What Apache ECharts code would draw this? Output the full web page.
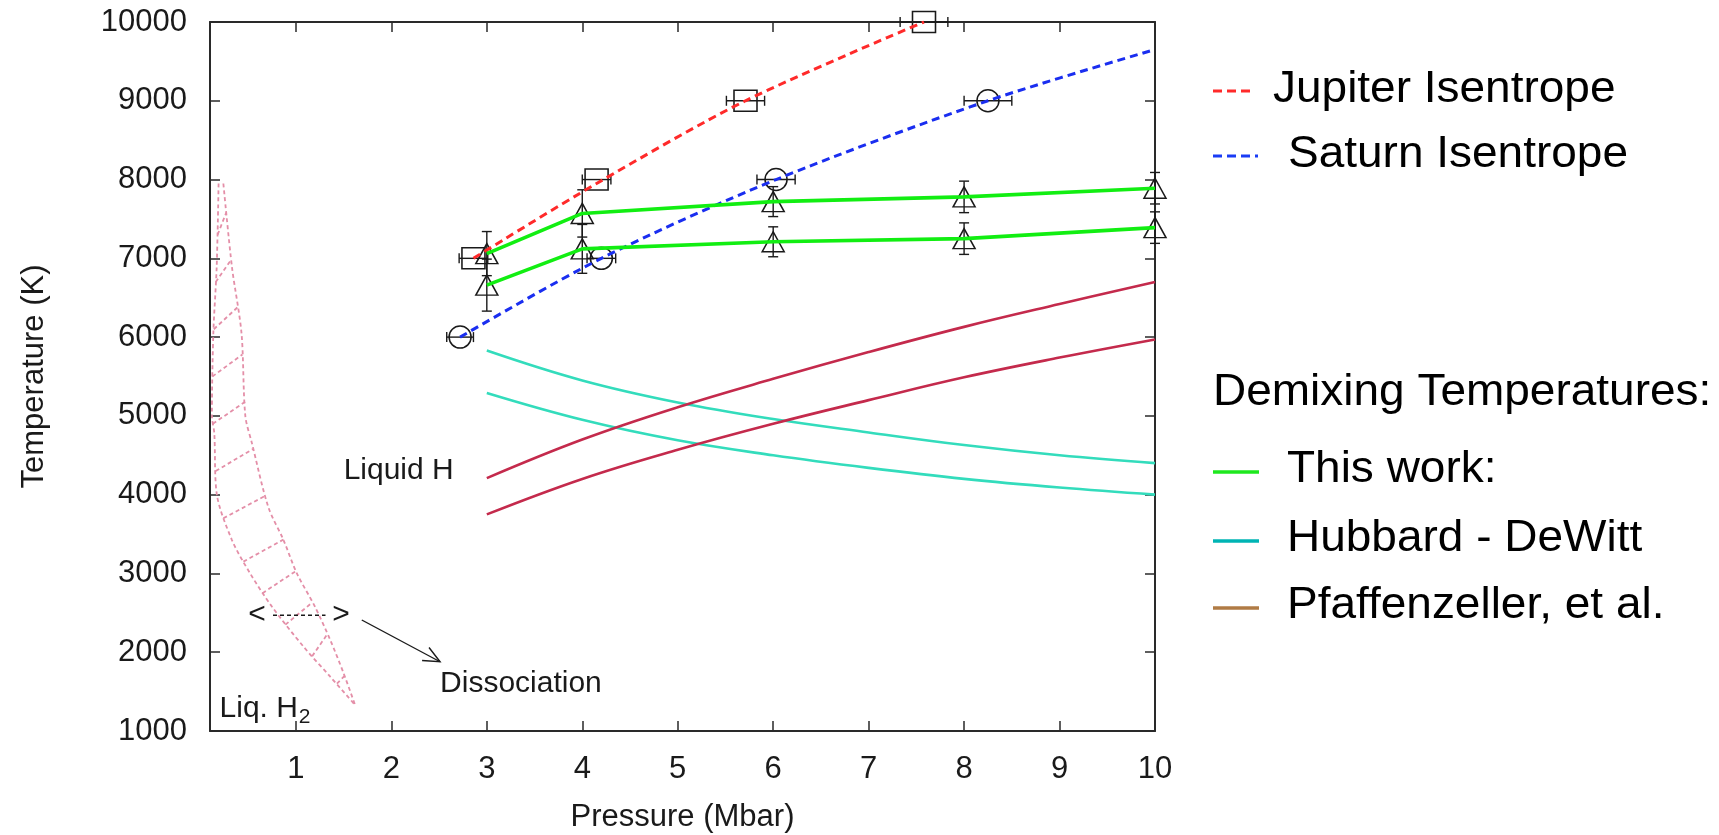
<!DOCTYPE html>
<html>
<head>
<meta charset="utf-8">
<title>H-He demixing</title>
<script src="https://cdn.jsdelivr.net/npm/echarts@6/dist/echarts.min.js"></script>
<style>
  html, body { margin: 0; padding: 0; background: #fff; }
  #chart { width: 1719px; height: 835px; }
</style>
</head>
<body>
<div id="chart"></div>
<script>
// ticks
var xTicks = [1, 2, 3, 4, 5, 6, 7, 8, 9, 10];
var yTicks = [1000, 2000, 3000, 4000, 5000, 6000, 7000, 8000, 9000, 10000];

// Jupiter isentrope (squares + dashed curve)
var jupP = [2.86, 4.15, 5.71, 7.58];
var jupT = [7000, 8000, 9000, 10000];
var jupErr = [0.15, 0.15, 0.2, 0.25];
var jupLineP = [2.86, 4.15, 5.71, 7.58];
var jupLineT = [7000, 7950, 9000, 10000];

// Saturn isentrope (circles + dashed curve)
var satP = [2.72, 4.2, 6.03, 8.25];
var satT = [6000, 7000, 8000, 9000];
var satErr = [0.14, 0.15, 0.2, 0.25];
var satLineP = [2.72, 4.2, 6.03, 8.25, 10];
var satLineT = [6000, 7000, 8000, 9000, 9650];

// this work (green, triangles)
var workP = [3, 4, 6, 8, 10];
var workHi = [7060, 7570, 7720, 7780, 7890];
var workHiErr = [280, 300, 190, 200, 200];
var workLo = [6660, 7120, 7210, 7250, 7390];
var workLoErr = [330, 310, 190, 200, 200];

// Hubbard - DeWitt (cyan)
var hdP = [3, 4, 5, 6, 7, 8, 9, 10];
var hdHi = [5830, 5450, 5170, 4960, 4790, 4630, 4500, 4400];
var hdLo = [5290, 4950, 4690, 4500, 4340, 4200, 4090, 4000];

// Pfaffenzeller et al. (crimson)
var pfP = [3, 4, 5, 6, 7, 8, 9, 10];
var pfHi = [4210, 4700, 5110, 5470, 5810, 6130, 6420, 6700];
var pfLo = [3750, 4200, 4570, 4900, 5200, 5490, 5740, 5970];

// H2 dissociation band
var bandLeftP = [0.19, 0.17, 0.135, 0.12, 0.145, 0.17, 0.33, 0.52, 0.75, 1.08, 1.36, 1.62];
var bandLeftT = [7950, 6890, 6050, 5000, 4780, 4016, 3424, 3001, 2577, 2070, 1689, 1330];
var bandRightP = [0.24, 0.33, 0.43, 0.47, 0.54, 0.71, 0.87, 1.01, 1.20, 1.36, 1.50, 1.62];
var bandRightT = [7950, 6890, 6050, 5000, 4651, 3846, 3424, 3001, 2577, 2155, 1732, 1330];
var hatchP1 = [0.18, 0.16, 0.14, 0.125, 0.13, 0.16, 0.24, 0.45, 0.65, 0.89, 1.17, 1.43];
var hatchT1 = [7300, 6700, 6100, 5500, 4900, 4300, 3700, 3150, 2750, 2350, 1950, 1600];
var hatchP2 = [0.27, 0.32, 0.39, 0.44, 0.47, 0.55, 0.67, 0.87, 1.00, 1.17, 1.33, 1.51];
var hatchT2 = [7580, 6980, 6380, 5780, 5180, 4580, 3980, 3430, 3030, 2630, 2230, 1700];

// annotations
var noteText = ['Liquid H', 'Dissociation', 'Liq. H', '<', '>'];
var noteP = [1.50, 2.51, 0.20, 0.50, 1.38];
var noteT = [4300, 1603, 1279, 2470, 2470];
var subText = ['2'];
var subP = [1.03];
var subT = [1181];
var dashArrowP = [0.76, 1.31];
var dashArrowT = [2470, 2470];
var arrowFrom = [1.69, 2409];
var arrowTo = [2.51, 1879];

function pts(xs, ys) {
    return xs.map(function (x, i) { return [x, ys[i]]; });
}

var FONT = 'Liberation Sans';
var INK = '#1a1a1a';

function errX(params, api) {
    var c = api.coord([api.value(0), api.value(2)]);
    var a = api.coord([api.value(0) - api.value(1), api.value(2)]);
    var b = api.coord([api.value(0) + api.value(1), api.value(2)]);
    var st = { stroke: INK, lineWidth: 1.4 };
    return { type: 'group', children: [
        { type: 'line', shape: { x1: a[0], y1: c[1], x2: b[0], y2: c[1] }, style: st },
        { type: 'line', shape: { x1: a[0], y1: c[1] - 5, x2: a[0], y2: c[1] + 5 }, style: st },
        { type: 'line', shape: { x1: b[0], y1: c[1] - 5, x2: b[0], y2: c[1] + 5 }, style: st }
    ]};
}

function errY(params, api) {
    var a = api.coord([api.value(0), api.value(1) - api.value(2)]);
    var b = api.coord([api.value(0), api.value(1) + api.value(2)]);
    var st = { stroke: INK, lineWidth: 1.4 };
    return { type: 'group', children: [
        { type: 'line', shape: { x1: a[0], y1: a[1], x2: b[0], y2: b[1] }, style: st },
        { type: 'line', shape: { x1: a[0] - 5, y1: a[1], x2: a[0] + 5, y2: a[1] }, style: st },
        { type: 'line', shape: { x1: b[0] - 5, y1: b[1], x2: b[0] + 5, y2: b[1] }, style: st }
    ]};
}

function arrow(params, api) {
    var a = api.coord([api.value(0), api.value(1)]);
    var b = api.coord([api.value(2), api.value(3)]);
    var ang = Math.atan2(b[1] - a[1], b[0] - a[0]);
    var L = 18, w = 0.42;
    var h1 = [b[0] - L * Math.cos(ang - w), b[1] - L * Math.sin(ang - w)];
    var h2 = [b[0] - L * Math.cos(ang + w), b[1] - L * Math.sin(ang + w)];
    var st = { stroke: INK, lineWidth: 1.4, fill: null };
    return { type: 'group', children: [
        { type: 'line', shape: { x1: a[0], y1: a[1], x2: b[0], y2: b[1] }, style: st },
        { type: 'polyline', shape: { points: [h1, b, h2] }, style: st }
    ]};
}

var chart = echarts.init(document.getElementById('chart'));

var hollow = { color: 'rgba(0,0,0,0)', borderColor: INK, borderWidth: 1.5, opacity: 1 };
var bandStyle = { color: '#e48fa8', width: 1.8, type: [4, 3] };

var series = [
    // dissociation band
    { type: 'line', data: pts(bandLeftP, bandLeftT), smooth: 0.3, showSymbol: false, lineStyle: bandStyle, silent: true },
    { type: 'line', data: pts(bandRightP, bandRightT), smooth: 0.3, showSymbol: false, lineStyle: bandStyle, silent: true },
    {
        type: 'lines', coordinateSystem: 'cartesian2d', silent: true,
        lineStyle: Object.assign({ opacity: 1 }, bandStyle),
        data: hatchP1.map(function (p, i) { return { coords: [[p, hatchT1[i]], [hatchP2[i], hatchT2[i]]] }; })
    },
    // Hubbard - DeWitt
    { type: 'line', data: pts(hdP, hdHi), smooth: 0.4, showSymbol: false, lineStyle: { color: '#33dcbc', width: 2.6 } },
    { type: 'line', data: pts(hdP, hdLo), smooth: 0.4, showSymbol: false, lineStyle: { color: '#33dcbc', width: 2.6 } },
    // Pfaffenzeller
    { type: 'line', data: pts(pfP, pfHi), smooth: 0.4, showSymbol: false, lineStyle: { color: '#c42a4c', width: 2.6 } },
    { type: 'line', data: pts(pfP, pfLo), smooth: 0.4, showSymbol: false, lineStyle: { color: '#c42a4c', width: 2.6 } },
    // isentropes
    { type: 'line', data: pts(jupLineP, jupLineT), smooth: 0.3, showSymbol: false, lineStyle: { color: '#ff2a2a', width: 3, type: [8, 5] } },
    { type: 'line', data: pts(satLineP, satLineT), smooth: 0.3, showSymbol: false, lineStyle: { color: '#1a2ef0', width: 3, type: [8, 5] } },
    // this work
    { type: 'line', data: pts(workP, workHi), showSymbol: false, lineStyle: { color: '#12ee12', width: 3.6 } },
    { type: 'line', data: pts(workP, workLo), showSymbol: false, lineStyle: { color: '#12ee12', width: 3.6 } },
    // error bars
    { type: 'custom', renderItem: errX, clip: false, data: jupP.map(function (p, i) { return [p, jupErr[i], jupT[i]]; }) },
    { type: 'custom', renderItem: errX, clip: false, data: satP.map(function (p, i) { return [p, satErr[i], satT[i]]; }) },
    { type: 'custom', renderItem: errY, clip: false, data: workP.map(function (p, i) { return [p, workHi[i], workHiErr[i]]; }) },
    { type: 'custom', renderItem: errY, clip: false, data: workP.map(function (p, i) { return [p, workLo[i], workLoErr[i]]; }) },
    // markers
    { type: 'scatter', symbol: 'rect', symbolSize: [23, 21], itemStyle: hollow, clip: false, data: pts(jupP, jupT) },
    { type: 'scatter', symbol: 'circle', symbolSize: 22, itemStyle: hollow, clip: false, data: pts(satP, satT) },
    { type: 'scatter', symbol: 'triangle', symbolSize: [22, 20], itemStyle: hollow, clip: false, data: pts(workP, workHi) },
    { type: 'scatter', symbol: 'triangle', symbolSize: [22, 20], itemStyle: hollow, clip: false, data: pts(workP, workLo) },
    // annotations
    {
        type: 'line', data: pts(dashArrowP, dashArrowT), showSymbol: false,
        lineStyle: { color: INK, width: 1.4, type: [4, 3] }
    },
    { type: 'custom', renderItem: arrow, clip: false, data: [[arrowFrom[0], arrowFrom[1], arrowTo[0], arrowTo[1]]] },
    {
        type: 'scatter', symbolSize: 0, silent: true, itemStyle: { opacity: 1 },
        data: noteP.map(function (p, i) { return { value: [p, noteT[i]], name: noteText[i] }; }),
        label: {
            show: true, position: 'right', distance: 0,
            formatter: function (d) { return d.name; },
            fontFamily: FONT, fontSize: 30, color: INK
        }
    },
    {
        type: 'scatter', symbolSize: 0, silent: true, itemStyle: { opacity: 1 },
        data: subP.map(function (p, i) { return { value: [p, subT[i]], name: subText[i] }; }),
        label: {
            show: true, position: 'right', distance: 0,
            formatter: function (d) { return d.name; },
            fontFamily: FONT, fontSize: 21, color: INK
        }
    }
];

var axisLine = { show: true, lineStyle: { color: '#2a2a2a', width: 2 } };
var tick = { show: true, inside: true, length: 10, lineStyle: { color: '#2a2a2a', width: 1.5 } };

var LEG = '44px "Liberation Sans"';
function legText(x, y, s) {
    return { type: 'text', x: x, y: y, scaleX: 1.045, style: { text: s, font: LEG, fill: '#000', verticalAlign: 'middle' } };
}

var option = {
    backgroundColor: '#ffffff',
    animation: false,
    textStyle: { fontFamily: FONT },
    grid: { left: 210, top: 22, width: 945, height: 709, outerBoundsMode: 'none', containLabel: false },
    xAxis: [
        {
            type: 'value', min: 0.1, max: 10, position: 'bottom',
            axisLine: axisLine,
            axisTick: Object.assign({ customValues: xTicks }, tick),
            axisLabel: { customValues: xTicks, fontSize: 31, color: INK, margin: 23, fontFamily: FONT },
            splitLine: { show: false },
            name: 'Pressure (Mbar)', nameLocation: 'middle', nameGap: 71,
            nameTextStyle: { fontSize: 31, color: INK, fontFamily: FONT }
        },
        {
            type: 'value', min: 0.1, max: 10, position: 'top',
            axisLine: axisLine,
            axisTick: Object.assign({ customValues: xTicks }, tick),
            axisLabel: { show: false },
            splitLine: { show: false }
        }
    ],
    yAxis: [
        {
            type: 'value', min: yTicks[0], max: yTicks[yTicks.length - 1], interval: 1000, position: 'left',
            axisLine: axisLine, axisTick: tick,
            axisLabel: { fontSize: 31, color: INK, margin: 23, fontFamily: FONT, formatter: function (v) { return String(v); } },
            splitLine: { show: false },
            name: 'Temperature (K)', nameLocation: 'middle', nameGap: 160, nameRotate: 90,
            nameTextStyle: { fontSize: 31, color: INK, fontFamily: FONT }
        },
        {
            type: 'value', min: yTicks[0], max: yTicks[yTicks.length - 1], interval: 1000, position: 'right',
            axisLine: axisLine, axisTick: tick,
            axisLabel: { show: false },
            splitLine: { show: false }
        }
    ],
    series: series,
    graphic: [
        { type: 'line', shape: { x1: 1213, y1: 91, x2: 1254, y2: 91 }, style: { stroke: '#ff2a2a', lineWidth: 3, lineDash: [9, 5] } },
        legText(1273, 90, 'Jupiter Isentrope'),
        { type: 'line', shape: { x1: 1213, y1: 156, x2: 1258, y2: 156 }, style: { stroke: '#1a3cf5', lineWidth: 3, lineDash: [9, 5] } },
        legText(1288, 155, 'Saturn Isentrope'),
        legText(1213, 393, 'Demixing Temperatures:'),
        { type: 'line', shape: { x1: 1213, y1: 472, x2: 1259, y2: 472 }, style: { stroke: '#1ee81e', lineWidth: 3.5 } },
        legText(1287, 470, 'This work:'),
        { type: 'line', shape: { x1: 1213, y1: 541, x2: 1259, y2: 541 }, style: { stroke: '#00b4b4', lineWidth: 3.5 } },
        legText(1287, 539, 'Hubbard - DeWitt'),
        { type: 'line', shape: { x1: 1213, y1: 608, x2: 1259, y2: 608 }, style: { stroke: '#b07b45', lineWidth: 3.5 } },
        legText(1287, 606, 'Pfaffenzeller, et al.')
    ]
};

chart.setOption(option);
</script>
</body>
</html>
